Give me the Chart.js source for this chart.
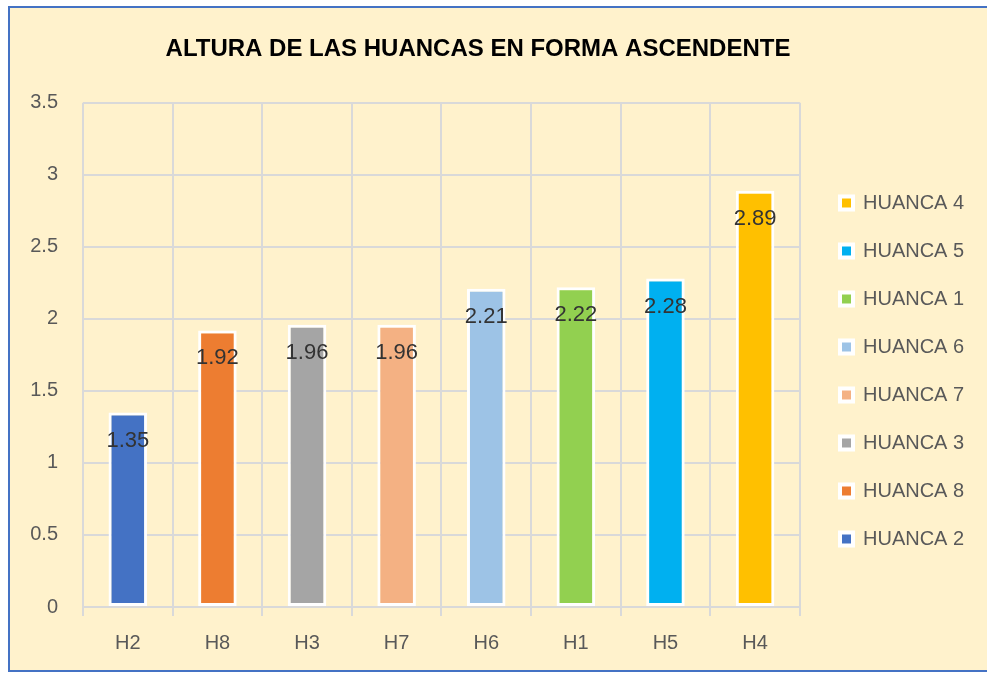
<!DOCTYPE html>
<html><head><meta charset="utf-8">
<script src="https://cdn.jsdelivr.net/npm/chart.js@4.4.0/dist/chart.umd.min.js"></script>
<style>
html,body{margin:0;padding:0;background:#fff;overflow:hidden;width:987px;height:674px;}
#box{position:absolute;left:8px;top:6px;width:990px;height:662px;border:2px solid #4472C4;background:#FFF2CC;}
#c{position:absolute;left:0;top:0;}
</style></head><body>
<div id="box"><canvas id="c" width="977" height="662"></canvas></div>
<script>
const categories = ['H2','H8','H3','H7','H6','H1','H5','H4'];
const values = [1.35, 1.92, 1.96, 1.96, 2.21, 2.22, 2.28, 2.89];
const seriesNames = ['HUANCA 2','HUANCA 8','HUANCA 3','HUANCA 7','HUANCA 6','HUANCA 1','HUANCA 5','HUANCA 4'];
const barColors = ['#4472C4','#ED7D31','#A5A5A5','#F4B183','#9DC3E6','#92D050','#00B0F0','#FFC000'];
const yTickLabels = ['0','0.5','1','1.5','2','2.5','3','3.5'];
const legendOrder = [7,6,5,4,3,2,1,0];
const titleText = 'ALTURA DE LAS HUANCAS EN FORMA ASCENDENTE';

const FONT = '"Liberation Sans", Arial, sans-serif';

const tweak = {
  id: 'tweak',
  afterLayout(chart) {
    const t = chart.titleBlock;
    if (t) { t.right -= 16; }
    const lg = chart.legend;
    if (lg) {
      const w = lg.width, h = lg.height;
      lg.left = 802; lg.right = lg.left + w;
      lg.top = 157; lg.bottom = lg.top + h;
    }
  }
};

const dataLabels = {
  id: 'dataLabels',
  afterDatasetsDraw(chart) {
    const ctx = chart.ctx;
    const meta = chart.getDatasetMeta(0);
    ctx.save();
    ctx.font = '22px ' + FONT;
    ctx.fillStyle = '#333333';
    ctx.textAlign = 'center';
    ctx.textBaseline = 'middle';
    meta.data.forEach((bar, i) => {
      ctx.fillText(values[i].toFixed(2), bar.x, bar.y + 28);
    });
    ctx.restore();
  }
};

new Chart(document.getElementById('c'), {
  type: 'bar',
  data: {
    labels: categories,
    datasets: [{
      label: 'Altura',
      data: values,
      backgroundColor: barColors,
      borderColor: '#ffffff',
      borderWidth: 3,
      borderSkipped: false,
      barPercentage: 0.43,
      categoryPercentage: 1.0
    }]
  },
  options: {
    responsive: false,
    animation: false,
    devicePixelRatio: 1,
    layout: { padding: { left: 0, right: 25, top: 0, bottom: 0 } },
    plugins: {
      title: {
        display: true,
        text: titleText,
        color: '#000000',
        font: { family: FONT, size: 24, weight: 'bold' },
        padding: { top: 27, bottom: 39 }
      },
      legend: {
        display: true,
        position: 'right',
        align: 'start',
        onClick: null,
        labels: {
          color: '#595959',
          font: { family: FONT, size: 20 },
          boxWidth: 13,
          boxHeight: 13,
          padding: 28,
          generateLabels() {
            return legendOrder.map(i => ({
              text: seriesNames[i],
              fillStyle: barColors[i],
              strokeStyle: '#ffffff',
              lineWidth: 4,
              fontColor: '#595959',
              hidden: false,
              index: i
            }));
          }
        }
      },
      tooltip: { enabled: false }
    },
    scales: {
      x: {
        grid: { color: '#D9D9D9', lineWidth: 2, offset: true, drawTicks: true, tickLength: 9 },
        border: { display: false },
        ticks: { color: '#595959', font: { family: FONT, size: 20 }, padding: 15 },
        afterFit(s) { s.height = 63; }
      },
      y: {
        min: 0, max: 3.5,
        grid: { color: '#D9D9D9', lineWidth: 2, drawTicks: false },
        border: { display: false },
        ticks: {
          stepSize: 0.5,
          color: '#595959',
          font: { family: FONT, size: 20 },
          padding: 25,
          callback: (v, i) => yTickLabels[i]
        },
        afterFit(s) { s.width = 73; }
      }
    }
  },
  plugins: [tweak, dataLabels]
});
</script>
</body></html>
